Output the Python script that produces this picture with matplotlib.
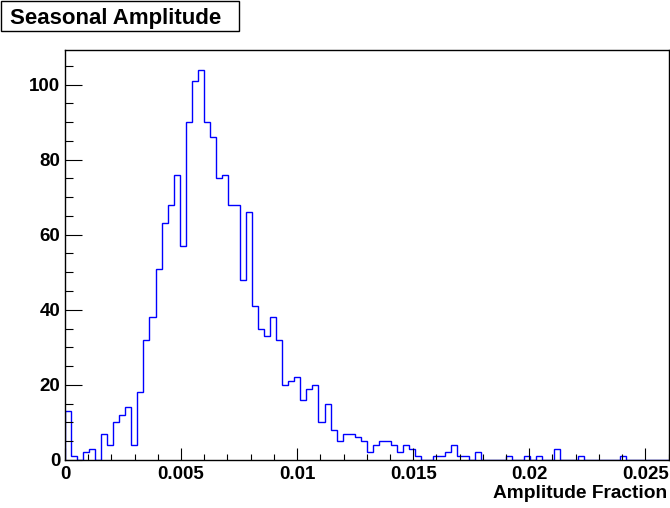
import numpy as np
import matplotlib
matplotlib.use('Agg')
import matplotlib.pyplot as plt
from matplotlib.patches import Rectangle
from matplotlib.ticker import MultipleLocator, FixedLocator

# ── Histogram contents (100 bins on [0, 0.026]) ──────────────────────────────
X_MIN, X_MAX, N_BINS = 0.0, 0.026, 100
COUNTS = [
    13, 1, 0, 2, 3, 0, 7, 4, 10, 12,
    14, 4, 18, 32, 38, 51, 63, 68, 76, 57,
    90, 101, 104, 90, 86, 75, 76, 68, 68, 48,
    66, 41, 35, 33, 38, 32, 20, 21, 22, 16,
    19, 20, 10, 15, 8, 5, 7, 7, 6, 5,
    2, 4, 5, 5, 4, 2, 4, 3, 1, 0,
    0, 1, 1, 2, 4, 1, 1, 0, 2, 0,
    0, 0, 0, 1, 0, 0, 1, 0, 1, 0,
    0, 3, 0, 0, 0, 1, 0, 0, 0, 0,
    0, 0, 1, 0, 0, 0, 0, 0, 0, 0,
]
X_TICKS = [0, 0.005, 0.01, 0.015, 0.02, 0.025]
X_TICKLABELS = ["0", "0.005", "0.01", "0.015", "0.02", "0.025"]
Y_TICKS = [0, 20, 40, 60, 80, 100]

TITLE = "Seasonal Amplitude"
XLABEL = "Amplitude Fraction"

FONT = ['Liberation Sans', 'DejaVu Sans']
plt.rcParams['font.family'] = FONT
plt.rcParams['font.weight'] = 'bold'

W, H = 670, 508
fig = plt.figure(figsize=(W / 100, H / 100), dpi=100)
ax = fig.add_axes([65 / W, (H - 460) / H, (668.5 - 65) / W, 410 / H])

edges = np.linspace(X_MIN, X_MAX, N_BINS + 1)
counts = np.array(COUNTS, dtype=float)
ax.stairs(counts, edges, color='#0000ff', linewidth=1.0, baseline=0, zorder=1)

ax.set_xlim(X_MIN, X_MAX)
ax.set_ylim(0, 1.05 * counts.max())

ax.xaxis.set_major_locator(FixedLocator(X_TICKS))
ax.set_xticklabels(X_TICKLABELS)
ax.xaxis.set_minor_locator(MultipleLocator(0.001))
ax.yaxis.set_major_locator(FixedLocator(Y_TICKS))
ax.yaxis.set_minor_locator(MultipleLocator(5))

ax.tick_params(axis='x', which='major', direction='in', length=8.5, width=0.8,
               pad=4, labelsize=13.5, top=False)
ax.tick_params(axis='x', which='minor', direction='in', length=4.3, width=0.8,
               top=False)
ax.tick_params(axis='y', which='major', direction='in', length=12.2, width=0.8,
               pad=3.5, labelsize=13.5, right=False)
ax.tick_params(axis='y', which='minor', direction='in', length=6.1, width=0.8,
               right=False)
for lbl in ax.get_xticklabels() + ax.get_yticklabels():
    lbl.set_fontweight('bold')

for s in ax.spines.values():
    s.set_linewidth(1.0)
    s.set_zorder(3)

# axis title, right aligned under the frame
fig.text(667 / W, (H - 498) / H, XLABEL, ha='right', va='baseline',
         fontsize=13.8, fontweight='bold')

# boxed histogram title in the upper-left corner
fig.add_artist(Rectangle((0.5 / W, (H - 30.5) / H), 238 / W, 29 / H,
                         transform=fig.transFigure, facecolor='white',
                         edgecolor='black', linewidth=1.0))
fig.text(10 / W, (H - 24) / H, TITLE, ha='left', va='baseline',
         fontsize=16, fontweight='bold')

fig.savefig("out.png", dpi=100)
